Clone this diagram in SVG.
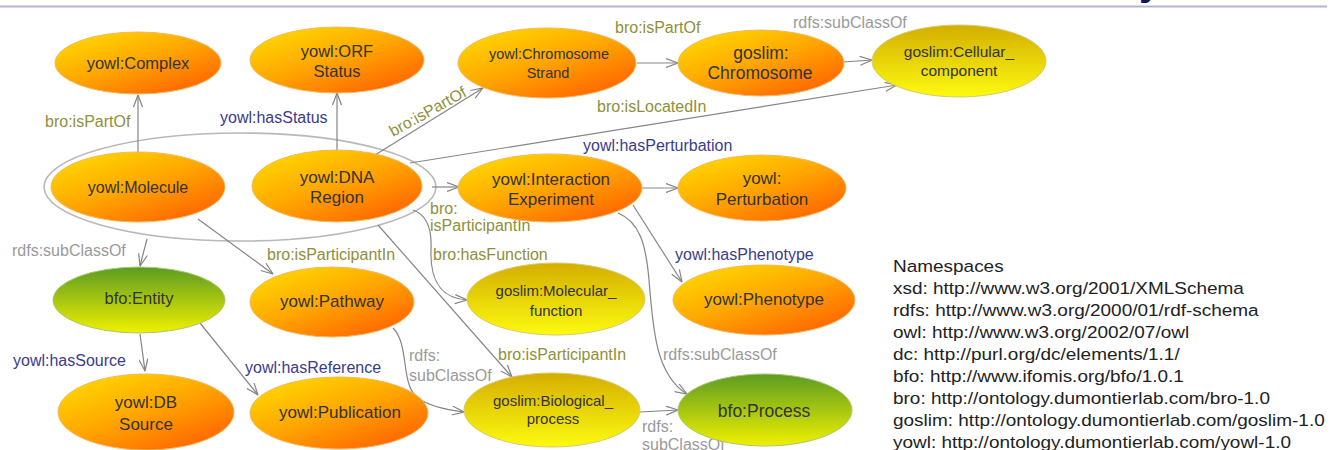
<svg xmlns="http://www.w3.org/2000/svg" width="1331" height="450" viewBox="0 0 1331 450">
<defs>
<linearGradient id="gO" x1="0.1" y1="0.05" x2="0.9" y2="1">
<stop offset="0" stop-color="#ffd800"/><stop offset="0.45" stop-color="#ffa800"/><stop offset="1" stop-color="#ff5c00"/>
</linearGradient>
<linearGradient id="gY" x1="0" y1="0" x2="0" y2="1">
<stop offset="0" stop-color="#d4ae00"/><stop offset="1" stop-color="#fcfa10"/>
</linearGradient>
<linearGradient id="gG" x1="0" y1="0" x2="0" y2="1">
<stop offset="0" stop-color="#5c9c22"/><stop offset="1" stop-color="#f0f000"/>
</linearGradient>
<marker id="arr" viewBox="0 0 13 10" refX="12.5" refY="5" markerWidth="13" markerHeight="10" orient="auto" markerUnits="userSpaceOnUse">
<path d="M0.5,0.5 L12.5,5 L0.5,9.5" fill="none" stroke="#858585" stroke-width="1.2"/>
</marker>
<style>
.o{fill:url(#gO);stroke:#f2b860;stroke-width:1}
.y{fill:url(#gY);stroke:#d8ca70;stroke-width:1}
.g{fill:url(#gG);stroke:#a8c870;stroke-width:1}
.t{font-family:"Liberation Sans",Arial,sans-serif;fill:#333;text-anchor:middle}
.e{fill:none;stroke:#858585;stroke-width:1.2;marker-end:url(#arr)}
.l{font-family:"Liberation Sans",Arial,sans-serif;font-size:16px}
.ol{fill:#8f8f3a}
.nv{fill:#3b3b8c}
.gr{fill:#9a9a9a}
.ns{font-family:"Liberation Sans",Arial,sans-serif;font-size:16.5px;fill:#222}
</style>
</defs>
<rect width="1331" height="450" fill="#ffffff"/>
<line x1="0" y1="6.5" x2="1327" y2="6.5" stroke="#b4b4d4" stroke-width="2"/>
<text x="1150" y="-5" font-family="Liberation Sans,Arial,sans-serif" font-size="40" font-weight="bold" fill="#12125e" text-anchor="middle">y</text>

<g id="group-molecule-dna">
<ellipse cx="240" cy="187" rx="196" ry="54" fill="#ffffff" stroke="#b8b8b8" stroke-width="1.6"/>
</g>

<g id="connectors">
<path class="e" d="M138,152 L138,95"/>
<path class="e" d="M337,150 L337,93"/>
<path class="e" d="M375,155 L483,88"/>
<path class="e" d="M637,63 L678,63"/>
<path class="e" d="M843,62 L872,60"/>
<path class="e" d="M410,163 L897,85"/>
<path class="e" d="M432,187 L459,187"/>
<path class="e" d="M642,188 L678,188"/>
<path class="e" d="M147,239 L140,266"/>
<path class="e" d="M198,219 L273,274"/>
<path class="e" d="M140,334 L145,371"/>
<path class="e" d="M200,323 L258,395"/>
<path class="e" d="M393,328 C410,345 400,385 418,398 C430,407 448,410 464,412"/>
<path class="e" d="M378,225 L512,377"/>
<path class="e" d="M413,210 C428,215 432,230 431,250 C430,280 440,298 467,300"/>
<path class="e" d="M633,205 L682,282"/>
<path class="e" d="M618,213 C640,222 646,245 649,280 C653,330 656,375 687,394"/>
<path class="e" d="M640,412 L678,410"/>
<text class="l ol" x="45" y="127">bro:isPartOf</text>
<text class="l nv" x="220" y="123">yowl:hasStatus</text>
<text class="l ol" x="393" y="137" transform="rotate(-29 393 137)">bro:isPartOf</text>
<text class="l ol" x="615" y="33">bro:isPartOf</text>
<text class="l gr" x="793" y="28">rdfs:subClassOf</text>
<text class="l ol" x="597" y="112">bro:isLocatedIn</text>
<text class="l nv" x="583" y="151">yowl:hasPerturbation</text>
<text class="l ol" x="430" y="214">bro:</text>
<text class="l ol" x="430" y="231">isParticipantIn</text>
<text class="l ol" x="433" y="260">bro:hasFunction</text>
<text class="l gr" x="12" y="256">rdfs:subClassOf</text>
<text class="l ol" x="267" y="260">bro:isParticipantIn</text>
<text class="l nv" x="675" y="260">yowl:hasPhenotype</text>
<text class="l nv" x="13" y="366">yowl:hasSource</text>
<text class="l nv" x="245" y="373">yowl:hasReference</text>
<text class="l gr" x="409" y="361">rdfs:</text>
<text class="l gr" x="409" y="381">subClassOf</text>
<text class="l ol" x="498" y="360">bro:isParticipantIn</text>
<text class="l gr" x="663" y="360">rdfs:subClassOf</text>
<text class="l gr" x="642" y="432">rdfs:</text>
<text class="l gr" x="642" y="450">subClassOf</text>
</g>

<g id="yowl-complex"><ellipse class="o" cx="138" cy="63" rx="83" ry="31"/><text class="t" x="138" y="69" font-size="16.5">yowl:Complex</text></g>
<g id="yowl-orf-status"><ellipse class="o" cx="337" cy="60" rx="87" ry="33"/><text class="t" x="337" y="57" font-size="16.5">yowl:ORF</text><text class="t" x="337" y="77" font-size="16.5">Status</text></g>
<g id="yowl-chromosome-strand"><ellipse class="o" cx="547" cy="63" rx="89" ry="35"/><text class="t" x="549" y="59" font-size="14.5">yowl:Chromosome</text><text class="t" x="548" y="78" font-size="14.5">Strand</text></g>
<g id="goslim-chromosome"><ellipse class="o" cx="761" cy="63" rx="83" ry="33"/><text class="t" x="761" y="59" font-size="17.5">goslim:</text><text class="t" x="760" y="79" font-size="17.5">Chromosome</text></g>
<g id="goslim-cellular-component"><ellipse class="y" cx="959" cy="61" rx="87" ry="36"/><text class="t" x="959" y="57" font-size="15.5">goslim:Cellular_</text><text class="t" x="959" y="76" font-size="15.5">component</text></g>
<g id="yowl-molecule"><ellipse class="o" cx="138" cy="187" rx="87" ry="35"/><text class="t" x="138" y="193" font-size="16">yowl:Molecule</text></g>
<g id="yowl-dna-region"><ellipse class="o" cx="337" cy="186" rx="85" ry="36"/><text class="t" x="337" y="183" font-size="17">yowl:DNA</text><text class="t" x="337" y="203" font-size="17">Region</text></g>
<g id="yowl-interaction-experiment"><ellipse class="o" cx="550" cy="188" rx="92" ry="34"/><text class="t" x="551" y="185" font-size="17">yowl:Interaction</text><text class="t" x="551" y="205" font-size="17">Experiment</text></g>
<g id="yowl-perturbation"><ellipse class="o" cx="762" cy="188" rx="84" ry="33"/><text class="t" x="762" y="184" font-size="17">yowl:</text><text class="t" x="762" y="205" font-size="17">Perturbation</text></g>
<g id="bfo-entity"><ellipse class="g" cx="139" cy="300" rx="86" ry="33"/><text class="t" x="139" y="304" font-size="16.5">bfo:Entity</text></g>
<g id="yowl-pathway"><ellipse class="o" cx="332" cy="302" rx="82" ry="35"/><text class="t" x="332" y="307" font-size="17">yowl:Pathway</text></g>
<g id="goslim-molecular-function"><ellipse class="y" cx="556" cy="299" rx="89" ry="36"/><text class="t" x="556" y="296" font-size="15">goslim:Molecular_</text><text class="t" x="556" y="316" font-size="15">function</text></g>
<g id="yowl-phenotype"><ellipse class="o" cx="764" cy="300" rx="91" ry="35"/><text class="t" x="764" y="305" font-size="17">yowl:Phenotype</text></g>
<g id="yowl-db-source"><ellipse class="o" cx="146" cy="412" rx="88" ry="38"/><text class="t" x="146" y="408" font-size="17">yowl:DB</text><text class="t" x="146" y="430" font-size="17">Source</text></g>
<g id="yowl-publication"><ellipse class="o" cx="339" cy="413" rx="89" ry="36"/><text class="t" x="340" y="418" font-size="17">yowl:Publication</text></g>
<g id="goslim-biological-process"><ellipse class="y" cx="552" cy="410" rx="88" ry="37"/><text class="t" x="553" y="406" font-size="15">goslim:Biological_</text><text class="t" x="553" y="424" font-size="15">process</text></g>
<g id="bfo-process"><ellipse class="g" cx="765" cy="410" rx="87" ry="36"/><text class="t" x="764" y="417" font-size="17.5">bfo:Process</text></g>

<g id="namespaces" transform="translate(893,0) scale(1.15,1)">
<text class="ns" x="0" y="272">Namespaces</text>
<text class="ns" x="0" y="294">xsd: http://www.w3.org/2001/XMLSchema</text>
<text class="ns" x="0" y="316">rdfs: http://www.w3.org/2000/01/rdf-schema</text>
<text class="ns" x="0" y="338">owl: http://www.w3.org/2002/07/owl</text>
<text class="ns" x="0" y="360">dc: http://purl.org/dc/elements/1.1/</text>
<text class="ns" x="0" y="382">bfo: http://www.ifomis.org/bfo/1.0.1</text>
<text class="ns" x="0" y="404">bro: http://ontology.dumontierlab.com/bro-1.0</text>
<text class="ns" x="0" y="426">goslim: http://ontology.dumontierlab.com/goslim-1.0</text>
<text class="ns" x="0" y="448">yowl: http://ontology.dumontierlab.com/yowl-1.0</text>
</g>
</svg>
